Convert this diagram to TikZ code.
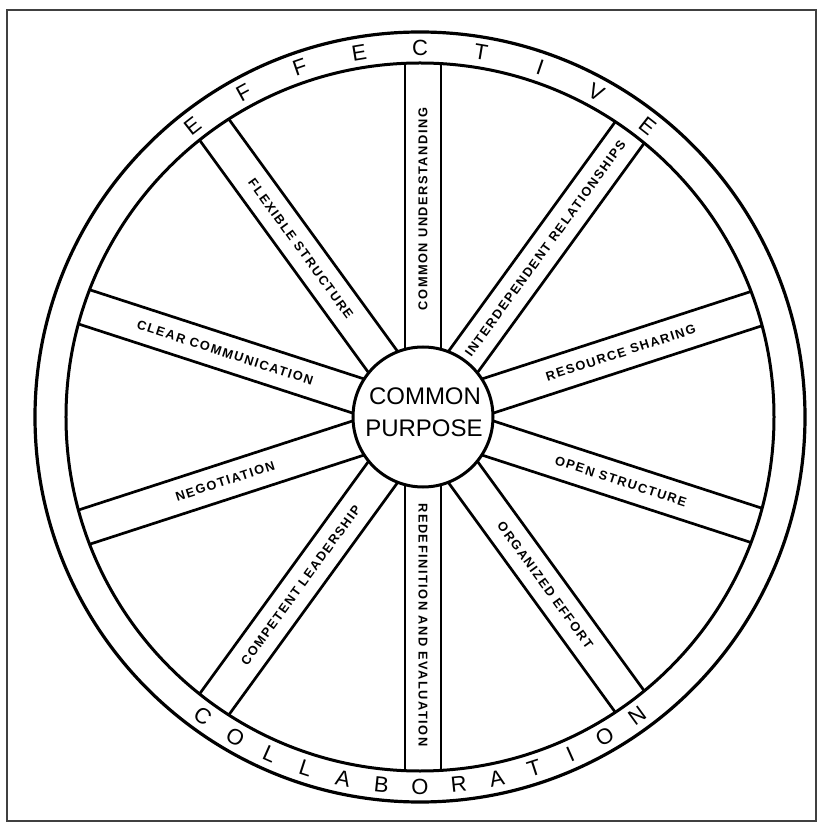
\documentclass[tikz,border=0pt]{standalone}
\usepackage{fontspec}
\setmainfont{Liberation Sans}
\newfontfamily\spokefont{Liberation Sans}[LetterSpace=12]
\begin{document}
\begin{tikzpicture}[x=1pt,y=1pt,
  rimline/.style={line width=3.2pt},
  innerline/.style={line width=3pt},
  spokeline/.style={line width=2.7pt},
  rimletter/.style={font=\fontsize{22}{22}\selectfont, inner sep=0pt},
  spokelabel/.style={font=\spokefont\bfseries\fontsize{12.8}{12.8}\selectfont, inner sep=0pt},
  hubtext/.style={font=\fontsize{24}{24}\selectfont, inner sep=0pt}]
\useasboundingbox (-420,-407) rectangle (404,417);
% frame
\draw[line width=1.2pt, black!75] (-413,-404) rectangle (396,407);
\coordinate (c) at (0,0);
% spokes
\begin{scope}
  \clip (c) circle (354);
  \foreach \a in {18,54,...,342} {
    \draw[spokeline, shift={(3,0)}, rotate=\a] (0,18) -- (400,18) (0,-18) -- (400,-18);
  }
\end{scope}
% rim
\draw[rimline] (c) circle (385);
\draw[innerline] (c) circle (354);
% hub
\node[draw, circle, line width=3pt, fill=white, minimum size=140pt, inner sep=0pt] (hub) at (3,0) {};
\node[hubtext] (common) at (5,21) {COMMON};
\node[hubtext] (purpose) at (4,-11) {PURPOSE};
% spoke labels
\foreach \a/\r/\t in {90/90/COMMON UNDERSTANDING,
                      54/54/INTERDEPENDENT RELATIONSHIPS,
                      18/18/RESOURCE SHARING,
                      342/-18/OPEN STRUCTURE,
                      306/-54/ORGANIZED EFFORT,
                      270/-90/REDEFINITION AND EVALUATION,
                      234/54/COMPETENT LEADERSHIP,
                      198/18/NEGOTIATION,
                      162/-18/CLEAR COMMUNICATION,
                      126/-54/FLEXIBLE STRUCTURE} {
  \node[spokelabel, rotate=\r] (lab\a) at ([shift={(3,0)}]\a:208) {\t};
}
% rim lettering
\foreach \l [count=\i from 0] in {E,F,F,E,C,T,I,V,E} {
  \pgfmathsetmacro\ang{128-9.5*\i}
  \pgfmathsetmacro\rot{\ang-90}
  \node[rimletter, rotate=\rot] (eff\i) at (\ang:369.5) {\l};
}
\foreach \l [count=\i from 0] in {C,O,L,L,A,B,O,R,A,T,I,O,N} {
  \pgfmathsetmacro\ang{234+6*\i}
  \pgfmathsetmacro\rot{\ang+90}
  \node[rimletter, rotate=\rot] (col\i) at (\ang:369.5) {\l};
}
\end{tikzpicture}
\end{document}
